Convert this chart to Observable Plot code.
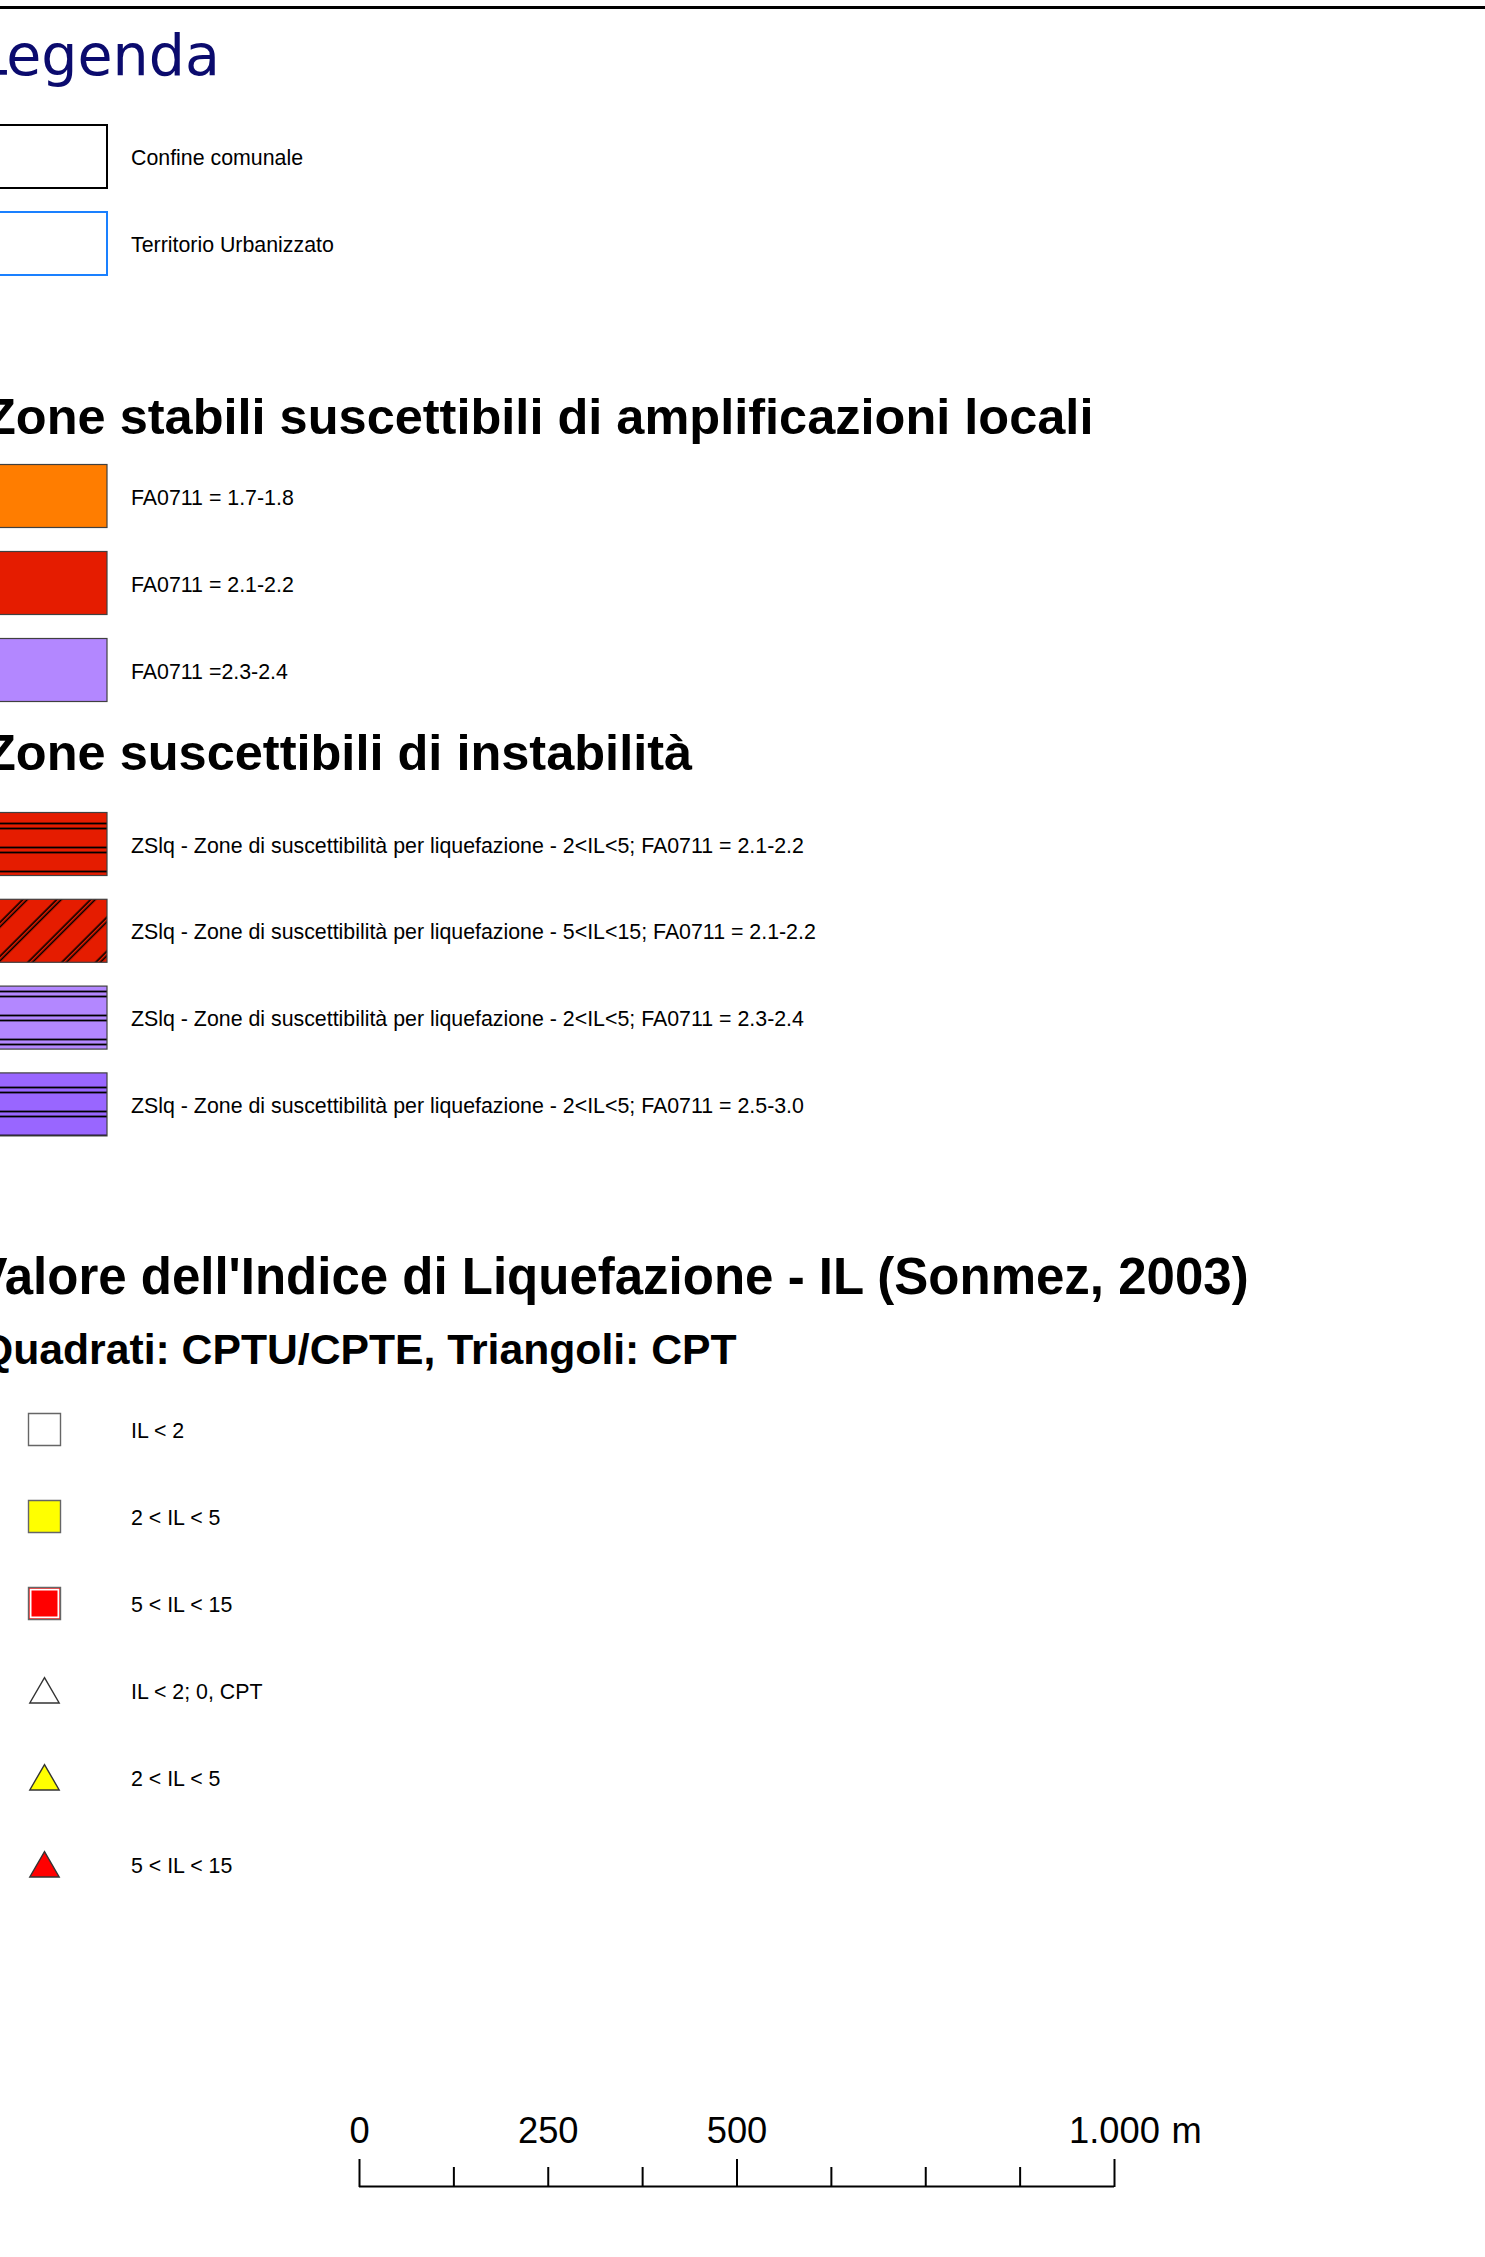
<!DOCTYPE html>
<html>
<head>
<meta charset="utf-8">
<script src="https://cdn.jsdelivr.net/npm/d3@7"></script>
<script src="https://cdn.jsdelivr.net/npm/@observablehq/plot@0.6"></script>
<style>
html, body { margin: 0; padding: 0; background: #ffffff; }
#page { position: relative; width: 1485px; height: 2257px; overflow: hidden; background: #ffffff; }
#page svg { position: absolute; left: 0; display: block; }
</style>
</head>
<body>
<div id="page"></div>
<script>
// ---------------- DATA ----------------
const pageTitle = "Legenda";

const boundaryLabels = ["Confine comunale", "Territorio Urbanizzato"];

const stableTitle = "Zone stabili suscettibili di amplificazioni locali";
const stableLabels = ["FA0711 = 1.7-1.8", "FA0711 = 2.1-2.2", "FA0711 =2.3-2.4"];
const stableClasses = ["1.7-1.8", "2.1-2.2", "2.3-2.4"];

const unstableTitle = "Zone suscettibili di instabilità";
const unstableLabels = [
  "ZSlq - Zone di suscettibilità per liquefazione - 2<IL<5; FA0711 = 2.1-2.2",
  "ZSlq - Zone di suscettibilità per liquefazione - 5<IL<15; FA0711 = 2.1-2.2",
  "ZSlq - Zone di suscettibilità per liquefazione - 2<IL<5; FA0711 = 2.3-2.4",
  "ZSlq - Zone di suscettibilità per liquefazione - 2<IL<5; FA0711 = 2.5-3.0"
];
const unstableClasses = ["2.1-2.2", "2.1-2.2", "2.3-2.4", "2.5-3.0"];
const unstableIL = ["2-5", "5-15", "2-5", "2-5"];

const ilTitle = "Valore dell'Indice di Liquefazione - IL (Sonmez, 2003)";
const ilSubtitle = "Quadrati: CPTU/CPTE, Triangoli: CPT";
const ilLabels = ["IL < 2", "2 < IL < 5", "5 < IL < 15", "IL < 2; 0, CPT", "2 < IL < 5", "5 < IL < 15"];
const ilClasses = ["<2", "2-5", "5-15", "<2", "2-5", "5-15"];
const ilTests = ["CPTU/CPTE", "CPTU/CPTE", "CPTU/CPTE", "CPT", "CPT", "CPT"];

const scaleTicks = [0, 250, 500, 1000];
const scaleMajor = [0, 500, 1000];
const scaleDivisions = [0, 125, 250, 375, 500, 625, 750, 875, 1000];
const scaleUnit = "m";

// ---------------- STYLES ----------------
const SANS = "'Liberation Sans', Arial, Helvetica, sans-serif";
const faColor = {"1.7-1.8": "#ff7d00", "2.1-2.2": "#e51c00", "2.3-2.4": "#b387ff", "2.5-3.0": "#9966ff"};
const boundaryStroke = {"Confine comunale": "#000000", "Territorio Urbanizzato": "#1a80ff"};
const ilColor = {"<2": "#ffffff", "2-5": "#ffff00", "5-15": "#ff0000"};
const ilPattern = {"2-5": "url(#hatch-h)", "5-15": "url(#hatch-d)"};

// ---------------- LAYOUT ----------------
const L = {
  W: 1485, H: 2080,
  topRule: 7,
  swX1: -20, swX2: 107, half: 31.5, labelX: 130.5, baseOff: 8, step: 87, labelSize: 21.35,
  symX: 44,
  title: {x: -25, y: 74, size: 57},
  boundaryY0: 156.5,
  stableHead: {x: -15.5, y: 433, size: 50.5}, stableY0: 496,
  unstableHead: {x: -15.5, y: 769, size: 50.5}, unstableY0: 844, unstableStep: 86.8,
  ilHead: {x: -27, y: 1293, size: 51},
  ilSub: {x: -20.5, y: 1363, size: 42.7},
  ilY0: 1429
};

const boundaryRows = boundaryLabels.map((label, i) => ({label, y: L.boundaryY0 + i * L.step}));
const stableRows = stableLabels.map((label, i) => ({label, cls: stableClasses[i], y: L.stableY0 + i * L.step}));
const unstableRows = unstableLabels.map((label, i) => ({label, cls: unstableClasses[i], il: unstableIL[i], y: L.unstableY0 + i * L.unstableStep}));
const ilRows = ilLabels.map((label, i) => ({label, cls: ilClasses[i], test: ilTests[i], y: L.ilY0 + i * L.step}));

const swatch = {x1: L.swX1, x2: L.swX2, y1: d => d.y - L.half, y2: d => d.y + L.half};
const rowText = {x: L.labelX, y: d => d.y + L.baseOff, text: "label", fontSize: L.labelSize, textAnchor: "start", lineAnchor: "bottom", fill: "#000"};
const header = (t, h, extra = {}) => Plot.text([t], {x: h.x, y: h.y, text: d => d, fontSize: h.size, fontWeight: "bold", textAnchor: "start", lineAnchor: "bottom", fill: "#000", ...extra});

const sq = s => s / Math.sqrt(Math.PI);

const legend = Plot.plot({
  width: L.W, height: L.H, margin: 0,
  x: {type: "identity", axis: null}, y: {type: "identity", axis: null}, color: {type: "identity"},
  style: {fontFamily: SANS, background: "transparent", color: "#000", overflow: "hidden"},
  marks: [
    Plot.ruleY([L.topRule], {stroke: "#000", strokeWidth: 3}),
    Plot.text([pageTitle], {x: L.title.x, y: L.title.y, text: d => d, fontFamily: "'DejaVu Sans', sans-serif", fontSize: L.title.size, fill: "#0b0b6e", textAnchor: "start", lineAnchor: "bottom"}),

    // boundaries
    Plot.rect(boundaryRows, {...swatch, fill: "#ffffff", stroke: d => boundaryStroke[d.label], strokeWidth: 2}),
    Plot.text(boundaryRows, rowText),

    // stable zones
    header(stableTitle, L.stableHead),
    Plot.rect(stableRows, {...swatch, fill: d => faColor[d.cls], stroke: "#404040", strokeWidth: 1.2}),
    Plot.text(stableRows, rowText),

    // unstable zones
    header(unstableTitle, L.unstableHead),
    Plot.rect(unstableRows, {...swatch, fill: d => faColor[d.cls]}),
    Plot.rect(unstableRows, {...swatch, fill: d => ilPattern[d.il]}),
    Plot.rect(unstableRows, {...swatch, fill: "none", stroke: "#404040", strokeWidth: 1.2}),
    Plot.text(unstableRows, rowText),

    // liquefaction index
    header(ilTitle, L.ilHead),
    header(ilSubtitle, L.ilSub),
    Plot.dot(ilRows.filter(d => d.test !== "CPT"), {x: L.symX, y: "y", symbol: "square", r: sq(32), fill: d => ilColor[d.cls], stroke: "#666666", strokeWidth: 1.4}),
    Plot.dot(ilRows.filter(d => d.test !== "CPT" && d.cls === "5-15"), {x: L.symX, y: "y", symbol: "square", r: sq(27.8), fill: "none", stroke: "#ffffff", strokeWidth: 1.8}),
    Plot.dot(ilRows.filter(d => d.test === "CPT"), {x: L.symX, y: "y", dy: 4, symbol: "triangle", r: 10.9, fill: d => ilColor[d.cls], stroke: "#333333", strokeWidth: 1.4}),
    Plot.text(ilRows, rowText)
  ]
});

// hatch patterns (page coordinates)
const defs = d3.select(legend).insert("defs", ":first-child");
const ph = defs.append("pattern").attr("id", "hatch-h").attr("patternUnits", "userSpaceOnUse")
  .attr("width", 24).attr("height", 24);
[7.5, 12.5].forEach(v => ph.append("line").attr("x1", 0).attr("x2", 24).attr("y1", v).attr("y2", v)
  .attr("stroke", "#000").attr("stroke-width", 1.8));
const pd = defs.append("pattern").attr("id", "hatch-d").attr("patternUnits", "userSpaceOnUse")
  .attr("width", 24).attr("height", 24).attr("patternTransform", "rotate(-45)");
[4.2, 7.4].forEach(v => pd.append("line").attr("x1", 0).attr("x2", 24).attr("y1", v).attr("y2", v)
  .attr("stroke", "#000").attr("stroke-width", 1.6));

legend.style.top = "0px";
document.getElementById("page").appendChild(legend);

// ---------------- SCALE BAR ----------------
const fmt = d3.formatLocale({decimal: ",", thousands: ".", grouping: [3], currency: ["", " €"]}).format(",");
const B = {top: 2080, height: 177, left: 359, right: 371, baseY: 106, majorY: 79, minorY: 87, labelY: 62, size: 36.3};

const bar = Plot.plot({
  width: L.W, height: B.height,
  marginLeft: B.left, marginRight: B.right, marginTop: 0, marginBottom: 0,
  x: {domain: [0, 1000], axis: null},
  y: {type: "identity", axis: null},
  style: {fontFamily: SANS, background: "transparent", color: "#000", overflow: "visible"},
  marks: [
    Plot.ruleY([B.baseY], {x1: scaleDivisions[0], x2: scaleDivisions[scaleDivisions.length - 1], stroke: "#000", strokeWidth: 2}),
    Plot.ruleX(scaleDivisions, {x: d => d, y1: d => scaleMajor.includes(d) ? B.majorY : B.minorY, y2: B.baseY + 1, stroke: "#000", strokeWidth: 2}),
    Plot.text(scaleTicks, {x: d => d, y: B.labelY, text: d => fmt(d), fontSize: B.size, lineAnchor: "bottom", fill: "#000"}),
    Plot.text([scaleUnit], {x: scaleTicks[scaleTicks.length - 1], y: B.labelY, dx: 57, text: d => d, fontSize: B.size, textAnchor: "start", lineAnchor: "bottom", fill: "#000"})
  ]
});
bar.style.top = B.top + "px";
document.getElementById("page").appendChild(bar);
</script>
</body>
</html>
